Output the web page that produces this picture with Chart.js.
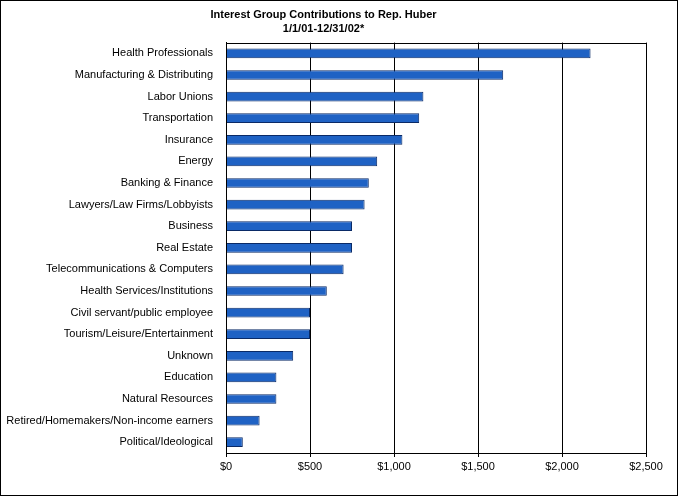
<!DOCTYPE html>
<html>
<head>
<meta charset="utf-8">
<script src="https://cdn.jsdelivr.net/npm/chart.js@4"></script>
<style>
  html, body { margin: 0; padding: 0; background: #fff; }
  #wrap { width: 676px; height: 494px; border: 1px solid #000; }
</style>
</head>
<body>
<div id="wrap"><canvas id="c" width="676" height="494"></canvas></div>
<script>
// Interest groups and contribution amounts (USD)
const categories = [
    'Health Professionals', 'Manufacturing & Distributing', 'Labor Unions',
    'Transportation', 'Insurance', 'Energy', 'Banking & Finance',
    'Lawyers/Law Firms/Lobbyists', 'Business', 'Real Estate',
    'Telecommunications & Computers', 'Health Services/Institutions',
    'Civil servant/public employee', 'Tourism/Leisure/Entertainment',
    'Unknown', 'Education', 'Natural Resources',
    'Retired/Homemakers/Non-income earners', 'Political/Ideological'
];
const contributions = [2170, 1650, 1175, 1150, 1050, 900, 850, 825, 750, 750,
    700, 600, 500, 500, 400, 300, 300, 200, 100];
const titleLines = ['Interest Group Contributions to Rep. Huber', '1/1/01-12/31/02*'];

// draw a box round the plot area
const plotBorder = {
    id: 'plotBorder',
    afterDraw(chart) {
        const a = chart.chartArea, ctx = chart.ctx;
        ctx.save();
        ctx.strokeStyle = '#000';
        ctx.lineWidth = 1;
        ctx.strokeRect(Math.round(a.left) + 0.5, Math.round(a.top) + 0.5,
            Math.round(a.right - a.left), Math.round(a.bottom - a.top));
        ctx.restore();
    }
};

new Chart(document.getElementById('c'), {
    type: 'bar',
    data: {
        labels: categories,
        datasets: [{
            data: contributions,
            backgroundColor: '#1f62c4',
            borderColor: '#0a2a66',
            borderWidth: 1,
            barPercentage: 0.45,
            categoryPercentage: 1
        }]
    },
    plugins: [plotBorder],
    options: {
        indexAxis: 'y',
        responsive: false,
        animation: false,
        layout: { padding: { left: 0, right: 31, bottom: 6 } },
        plugins: {
            legend: { display: false },
            tooltip: { enabled: false },
            title: {
                display: true,
                text: titleLines,
                color: '#000',
                font: { family: 'Liberation Sans', size: 11, weight: 'bold', lineHeight: 1.3 },
                padding: { top: 7, bottom: 6 }
            }
        },
        scales: {
            x: {
                min: 0,
                max: 2500,
                ticks: {
                    stepSize: 500,
                    color: '#000',
                    font: { family: 'Liberation Sans', size: 11 },
                    callback: v => '$' + v.toLocaleString('en-US')
                },
                grid: { color: '#000', tickLength: 4 },
                border: { color: '#000' },
                afterFit: s => { s.height = 36; }
            },
            y: {
                ticks: {
                    color: '#000',
                    font: { family: 'Liberation Sans', size: 11 },
                    autoSkip: false,
                    padding: 5
                },
                grid: { display: false },
                border: { color: '#000' },
                afterFit: s => { s.width = 225; }
            }
        }
    }
});
</script>
</body>
</html>
